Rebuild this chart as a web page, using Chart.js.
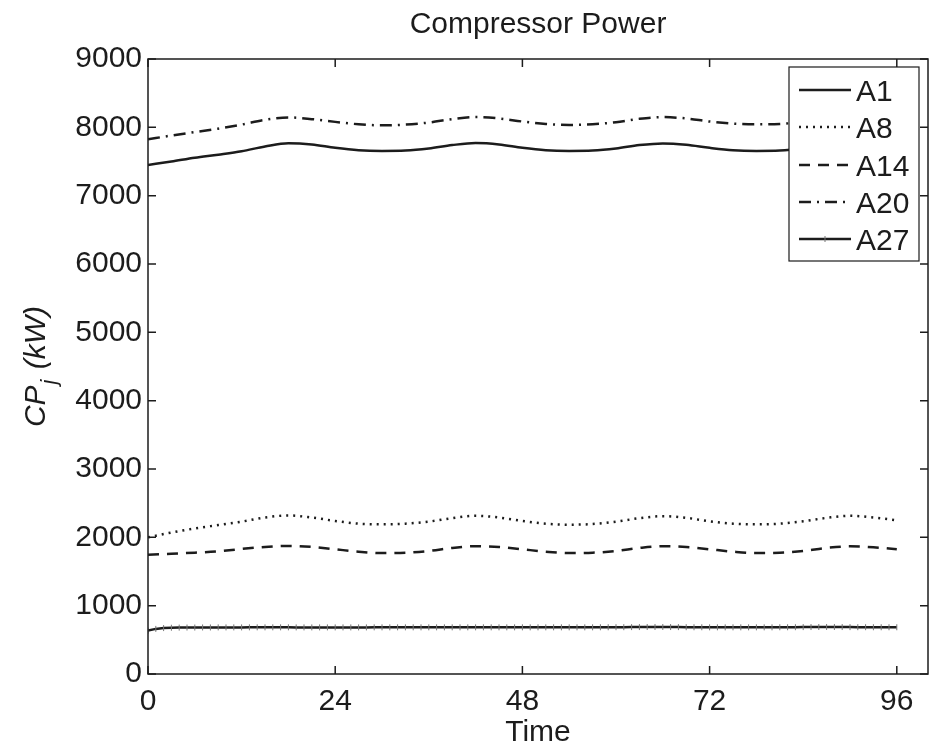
<!DOCTYPE html>
<html>
<head>
<meta charset="utf-8">
<script src="https://cdn.jsdelivr.net/npm/chart.js@4.4.0/dist/chart.umd.min.js"></script>
<style>
  html, body { margin: 0; background: #fff; }
  canvas { display: block; }
</style>
</head>
<body>
<canvas id="chart" width="939" height="747"></canvas>
<script>
// time grid (hours)
const hours3 = [0, 3, 6, 9, 12, 15, 18, 21, 24, 27, 30, 33, 36, 39, 42, 45, 48,
    51, 54, 57, 60, 63, 66, 69, 72, 75, 78, 81, 84, 87, 90, 93, 96];
const hours1 = [0, 1, 2, 3, 4, 5, 6, 7, 8, 9, 10, 11,
    12, 13, 14, 15, 16, 17, 18, 19, 20, 21, 22, 23,
    24, 25, 26, 27, 28, 29, 30, 31, 32, 33, 34, 35,
    36, 37, 38, 39, 40, 41, 42, 43, 44, 45, 46, 47,
    48, 49, 50, 51, 52, 53, 54, 55, 56, 57, 58, 59,
    60, 61, 62, 63, 64, 65, 66, 67, 68, 69, 70, 71,
    72, 73, 74, 75, 76, 77, 78, 79, 80, 81, 82, 83,
    84, 85, 86, 87, 88, 89, 90, 91, 92, 93, 94, 95,
    96];

// compressor power, kW
const a1 = [7450, 7500, 7555, 7600, 7650, 7720, 7768, 7750, 7700, 7665, 7655,
    7660, 7690, 7740, 7770, 7750, 7700, 7665, 7655, 7660, 7690, 7740, 7765,
    7745, 7700, 7665, 7655, 7660, 7690, 7740, 7765, 7745, 7700];
const a8 = [2000, 2070, 2130, 2180, 2230, 2290, 2320, 2290, 2240, 2200, 2190,
    2200, 2230, 2280, 2315, 2290, 2240, 2200, 2185, 2195, 2230, 2280, 2310,
    2285, 2235, 2200, 2190, 2200, 2235, 2285, 2315, 2290, 2250];
const a14 = [1745, 1760, 1775, 1795, 1830, 1860, 1875, 1860, 1825, 1790, 1770,
    1775, 1800, 1845, 1870, 1860, 1825, 1790, 1770, 1775, 1800, 1845, 1870,
    1860, 1825, 1790, 1770, 1775, 1800, 1845, 1868, 1855, 1825];
const a20 = [7825, 7880, 7930, 7980, 8040, 8110, 8145, 8120, 8080, 8045, 8030,
    8040, 8070, 8120, 8150, 8130, 8085, 8050, 8035, 8045, 8075, 8125, 8150,
    8130, 8085, 8055, 8045, 8050, 8080, 8125, 8150, 8130, 8090];
const a27 = [635, 660, 672, 677, 679, 680, 680, 681, 681, 682, 682, 682,
    682, 683, 683, 683, 683, 683, 683, 682, 682, 682, 682, 682,
    682, 682, 682, 682, 682, 683, 683, 683, 683, 683, 683, 683,
    683, 683, 683, 683, 683, 683, 683, 683, 683, 683, 683, 683,
    683, 683, 683, 683, 683, 683, 683, 683, 683, 683, 684, 684,
    685, 685, 686, 687, 688, 688, 688, 687, 686, 685, 684, 684,
    683, 683, 683, 683, 683, 683, 683, 683, 683, 684, 684, 685,
    686, 687, 688, 688, 688, 687, 686, 685, 685, 684, 684, 684,
    684];

const seriesNames = ['A1', 'A8', 'A14', 'A20', 'A27'];
const xTicks = [0, 24, 48, 72, 96];
const yTicks = [0, 1000, 2000, 3000, 4000, 5000, 6000, 7000, 8000, 9000];

const FONT = "'Liberation Sans', Arial, Helvetica, sans-serif";
const INK = '#1c1c1c';
const dashes = [[], [2, 5], [11, 8], [12, 6, 2, 6], []];

function pts(xs, ys) {
    return xs.map((x, i) => ({ x: x, y: ys[i] }));
}

function lineSet(i, xs, ys) {
    return {
        label: seriesNames[i],
        data: pts(xs, ys),
        borderColor: INK,
        borderWidth: 2.5,
        borderDash: dashes[i],
        borderCapStyle: 'butt',
        pointRadius: 0,
        cubicInterpolationMode: 'monotone',
        fill: false
    };
}

const markerSet = Object.assign(lineSet(4, hours1, a27), {
    pointRadius: 3,
    pointStyle: 'line',
    rotation: 90,
    pointBorderWidth: 1,
    pointBorderColor: '#777',
    cubicInterpolationMode: 'default',
    tension: 0
});

const frame = {
    id: 'frame',
    afterDraw(chart) {
        const { ctx, chartArea: a, scales: { x, y } } = chart;
        ctx.save();

        // axes box + inward ticks
        ctx.strokeStyle = INK;
        ctx.lineWidth = 1.5;
        ctx.setLineDash([]);
        ctx.strokeRect(a.left, a.top, a.right - a.left, a.bottom - a.top);
        ctx.beginPath();
        xTicks.forEach(v => {
            const px = x.getPixelForValue(v);
            ctx.moveTo(px, a.bottom); ctx.lineTo(px, a.bottom - 8);
            ctx.moveTo(px, a.top); ctx.lineTo(px, a.top + 8);
        });
        yTicks.forEach(v => {
            const py = y.getPixelForValue(v);
            ctx.moveTo(a.left, py); ctx.lineTo(a.left + 8, py);
            ctx.moveTo(a.right, py); ctx.lineTo(a.right - 8, py);
        });
        ctx.stroke();

        // legend
        const lx = 789, ly = 67, lw = 130, lh = 194;
        ctx.fillStyle = '#fff';
        ctx.fillRect(lx, ly, lw, lh);
        ctx.lineWidth = 1.2;
        ctx.strokeRect(lx, ly, lw, lh);
        const rows = [90, 127, 165, 202, 239];
        ctx.font = '30px ' + FONT;
        ctx.textAlign = 'left';
        ctx.textBaseline = 'alphabetic';
        seriesNames.forEach((name, i) => {
            ctx.strokeStyle = INK;
            ctx.lineWidth = 2.5;
            ctx.setLineDash(dashes[i]);
            ctx.beginPath();
            ctx.moveTo(799, rows[i]); ctx.lineTo(851, rows[i]);
            ctx.stroke();
            ctx.setLineDash([]);
            if (i === 4) {
                ctx.lineWidth = 1;
                ctx.strokeStyle = '#777';
                ctx.beginPath();
                ctx.moveTo(825, rows[i] - 3); ctx.lineTo(825, rows[i] + 3);
                ctx.stroke();
            }
            ctx.fillStyle = INK;
            ctx.fillText(name, 856, rows[i] + 11);
        });

        // title and x label
        ctx.textAlign = 'center';
        ctx.fillText('Compressor Power', (a.left + a.right) / 2, 33);
        ctx.fillText('Time', (a.left + a.right) / 2, 741);

        // y label with subscript
        ctx.translate(45, (a.top + a.bottom) / 2);
        ctx.rotate(-Math.PI / 2);
        ctx.textAlign = 'left';
        const big = 'italic 30px ' + FONT, small = 'italic 22px ' + FONT;
        ctx.font = big;
        const w1 = ctx.measureText('CP').width;
        const w3 = ctx.measureText(' (kW)').width;
        ctx.font = small;
        const w2 = ctx.measureText('j').width + 3;
        let cx = -(w1 + w2 + w3) / 2;
        ctx.font = big;
        ctx.fillText('CP', cx, 0);
        ctx.font = small;
        ctx.fillText('j', cx + w1 + 1, 11);
        ctx.font = big;
        ctx.fillText(' (kW)', cx + w1 + w2, 0);

        ctx.restore();
    }
};

new Chart(document.getElementById('chart'), {
    type: 'line',
    data: {
        datasets: [
            lineSet(0, hours3, a1),
            lineSet(1, hours3, a8),
            lineSet(2, hours3, a14),
            lineSet(3, hours3, a20),
            markerSet
        ]
    },
    options: {
        responsive: false,
        animation: false,
        layout: { padding: { top: 59, right: 11, left: 0, bottom: 0 } },
        plugins: { legend: { display: false }, tooltip: { enabled: false }, title: { display: false } },
        scales: {
            x: {
                type: 'linear',
                min: 0,
                max: 100,
                grid: { display: false, drawTicks: false },
                border: { display: false },
                afterBuildTicks: s => { s.ticks = xTicks.map(v => ({ value: v })); },
                afterFit: s => { s.height = 73; },
                ticks: { font: { family: FONT, size: 30 }, color: INK, padding: 10, maxRotation: 0, autoSkip: false,
                         callback: v => String(v) }
            },
            y: {
                min: 0,
                max: 9000,
                grid: { display: false, drawTicks: false },
                border: { display: false },
                afterBuildTicks: s => { s.ticks = yTicks.map(v => ({ value: v })); },
                afterFit: s => { s.width = 148; },
                ticks: { font: { family: FONT, size: 30 }, color: INK, padding: 6, autoSkip: false,
                         callback: v => String(v) }
            }
        }
    },
    plugins: [frame]
});
</script>
</body>
</html>
